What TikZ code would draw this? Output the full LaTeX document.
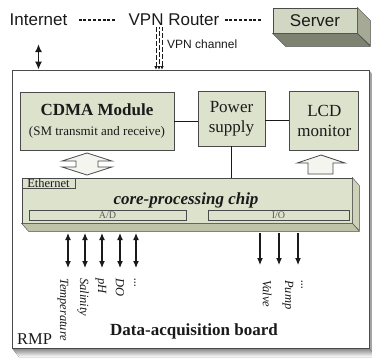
\documentclass[tikz,border=0pt]{standalone}
\usepackage{fontspec}
\setmainfont{Liberation Serif}
\setsansfont{Liberation Sans}
\usepackage{tikz}
\usetikzlibrary{positioning, arrows.meta, calc}
\definecolor{ink}{HTML}{1A1A1A}
\definecolor{edge}{HTML}{4A4A4A}
\definecolor{muted}{HTML}{5A5A5A}
\definecolor{sage}{HTML}{DDE2CD}
\definecolor{sageside}{HTML}{CDD2B8}
\definecolor{sagebot}{HTML}{BFC4A8}
\definecolor{srvside}{HTML}{A6AA94}
\definecolor{srvbot}{HTML}{7E8270}
\definecolor{shade}{HTML}{8A8A8A}
\definecolor{shadelt}{HTML}{A4A4A4}
\definecolor{pale}{HTML}{F3F5EE}
\newcommand\etcdots{...}
\tikzset{
  blk/.style={draw=edge, line width=0.8pt, fill=sage, text=ink, align=center,
    inner sep=0pt, font=\fontsize{17}{20}\selectfont},
  bar/.style={draw=edge, line width=0.7pt, fill=sage, text=muted, inner sep=0pt,
    font=\fontsize{10}{10}\selectfont},
  net/.style={inner sep=0pt, text=ink, font=\sffamily\fontsize{17}{17}\selectfont},
  wire/.style={draw=ink, line width=1pt},
  dots/.style={draw=ink, line width=1.6pt, dash pattern=on 3pt off 1.8pt},
  chan/.style={draw=ink, line width=0.7pt, dash pattern=on 5pt off 2pt, -{Latex[length=3.5pt,width=3.5pt]}},
  io/.style={draw=ink, line width=1.1pt, {Latex[length=7pt,width=6pt]}-{Latex[length=7pt,width=6pt]}},
  outarr/.style={draw=ink, line width=1.1pt, -{Latex[length=7pt,width=6pt]}},
  sig/.style={rotate=-90, anchor=west, inner sep=0pt, text=ink,
    font=\itshape\fontsize{12.5}{12.5}\selectfont},
  fat/.style={draw=edge, line width=0.8pt, fill=pale},
}

\begin{document}
\begin{tikzpicture}[x=1pt, y=-1pt, node distance=24pt]
  \useasboundingbox (0,0) rectangle (372,357);
  \fill[shadelt] (369,70) -- (376,79) -- (376,357) -- (369,348) -- cycle;
  \fill[shade] (12,348) -- (369,348) -- (376,357) -- (19,357) -- cycle;
  \node[draw=edge, line width=0.8pt, fill=white, minimum width=357pt, minimum height=278pt, inner sep=0pt] (rmp) at (190.5,209) {};

  \node[net] (inet) at (38.5,20) {Internet};
  \node[net] (vpn) at (174,20) {VPN Router};
  \node[blk, fill=sage!95!black, font=\sffamily\fontsize{17}{17}\selectfont, minimum width=84pt, minimum height=25pt] (srv) at (315,20.5) {Server};
  \path[fill=srvside, draw=edge] (srv.north east) -- ++(13,13) -- ++(0,25) -- (srv.south east) -- cycle;
  \path[fill=srvbot, draw=edge] (srv.south west) -- (srv.south east) -- ++(13,13) -- ($(srv.south west)+(13,13)$) -- cycle;
  \draw[dots, shorten <=11pt, shorten >=13pt] (inet.east) -- (vpn.west);
  \draw[dots, shorten <=5pt, shorten >=11pt] (vpn.east) -- (vpn.east -| srv.west);
  \draw[io, line width=1.3pt, {Latex[length=8pt,width=7pt]}-{Latex[length=8pt,width=7pt]}, shorten <=18pt] (inet.south) -- (inet.south |- rmp.north);
  \coordinate (vch) at (159,27);
  \foreach \dx/\ph in {-3/0, 0/3, 3/1.5}
    \draw[chan, dash phase=\ph pt] ([xshift=\dx pt]vch) -- ([xshift=\dx pt]vch |- rmp.north);
  \node[net, font=\sffamily\fontsize{12}{12}\selectfont, anchor=west] (vlbl) at (167,44) {VPN channel};

  \node[blk, minimum width=154pt, minimum height=58pt] (cdma) at (97,121) {{\bfseries CDMA Module}\\{\fontsize{13}{16}\selectfont (SM transmit and receive)}};
  \node[blk, minimum width=67pt, minimum height=55pt] (pwr) at (231.5,118.5) {Power\\supply};
  \node[blk, minimum width=69pt, minimum height=59pt, right=24pt of pwr, yshift=-2pt] (lcd) {LCD\\monitor};
  \draw[wire] (cdma.east) -- (cdma.east -| pwr.west);
  \draw[wire] (lcd.west -| pwr.east) -- (lcd.west);

  \node[blk, minimum width=330pt, minimum height=45pt] (chip) at (187,200.5) {};
  \path[fill=sageside, draw=edge] (chip.north east) -- ++(7,8) -- ++(0,45) -- (chip.south east) -- cycle;
  \path[fill=sagebot, draw=edge] (chip.south west) -- (chip.south east) -- ++(7,8) -- ($(chip.south west)+(7,8)$) -- cycle;
  \node[inner sep=0pt, text=ink, font=\bfseries\itshape\fontsize{17}{17}\selectfont] (core) at (186,200.5) {core-processing chip};
  \node[bar, text=ink, font=\fontsize{12.5}{12.5}\selectfont, minimum width=53pt, minimum height=10pt, anchor=north west] (eth) at (chip.north west) {Ethernet};
  \node[bar, minimum width=157pt, minimum height=10pt] (ad) at (107.5,215) {A/D};
  \node[bar, minimum width=141pt, minimum height=10pt] (iob) at (278.5,215) {I/O};
  \draw[wire] (pwr.south) -- (pwr.south |- chip.north);

  \path[fat] (87,153) -- (112,161) -- (98,161) -- (98,167) -- (112,167) -- (87,175)
    -- (62,167) -- (76,167) -- (76,161) -- (62,161) -- cycle;
  \path[fat] (321,155) -- (345,163) -- (333,163) -- (333,174) -- (308,174) -- (308,163) -- (297,163) -- cycle;

  \foreach \x/\t/\lx [count=\i] in {68/Temperature/63, 85/Salinity/83, 102/pH/101, 120/DO/120, 136/\etcdots/135} {
    \node[sig] (s\i) at (\lx,278) {\t};
    \draw[io] (\x,233) -- (\x,268);
  }
  \foreach \x/\t/\lx [count=\i] in {260/Valve/267, 279/Pump/288, 298/\etcdots/302} {
    \node[sig] (a\i) at (\lx,280) {\t};
    \draw[outarr] (\x,233) -- (\x,265);
  }

  \node[inner sep=0pt, text=ink, font=\bfseries\fontsize{17}{17}\selectfont] (dab) at (194,331) {Data-acquisition board};
  \node[inner sep=0pt, text=ink, font=\fontsize{16.5}{16.5}\selectfont, anchor=west] (rmplbl) at (17,339) {RMP};
\end{tikzpicture}
\end{document}
